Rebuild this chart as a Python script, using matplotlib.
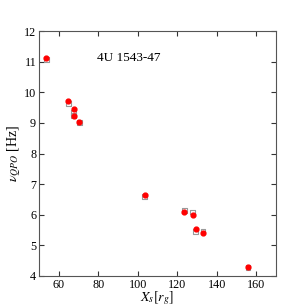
import matplotlib
matplotlib.use("Agg")
import matplotlib.pyplot as plt

plt.rcParams['font.family'] = ['Liberation Serif', 'DejaVu Serif']
plt.rcParams['mathtext.fontset'] = 'stix'

# observed (red circles) and model (gray squares)
xs = [53.7, 64.8, 67.6, 67.6, 70.5, 103.6, 123.6, 127.8, 129.3, 133.0, 155.8]
nu_obs = [11.12, 9.73, 9.45, 9.23, 9.02, 6.64, 6.10, 5.98, 5.55, 5.39, 4.31]
nu_mod = [11.07, 9.64, 9.34, 9.23, 9.02, 6.60, 6.14, 6.09, 5.45, 5.47, 4.28]

fig = plt.figure(figsize=(3.07, 3.07), dpi=100)
ax = fig.add_axes([39/307, 31/307, 237/307, 245/307])

ax.scatter(xs, nu_mod, marker='s', s=12, facecolors='none', edgecolors='#999999', linewidths=0.8, zorder=2)
ax.scatter(xs, nu_obs, marker='o', s=12, color='red', zorder=3)

ax.text(79.6, 11.12, "4U 1543-47", fontsize=9.5, va='center', ha='left')

ax.set_xlim(50, 170)
ax.set_ylim(4, 12)
ax.set_xticks([60, 80, 100, 120, 140, 160])
ax.set_yticks([4, 5, 6, 7, 8, 9, 10, 11, 12])
ax.tick_params(direction='in', top=True, right=True, labelsize=8.7, length=3.5, width=0.8, color='#333333', pad=2)
for s in ax.spines.values():
    s.set_color('#555555')
    s.set_linewidth(0.8)

ax.set_xlabel(r"$X_s[r_g]$", fontsize=10, labelpad=-1)
ax.set_ylabel(r"$\nu_{QPO}$ [Hz]", fontsize=10, labelpad=1)

fig.savefig("out.png", dpi=100)
